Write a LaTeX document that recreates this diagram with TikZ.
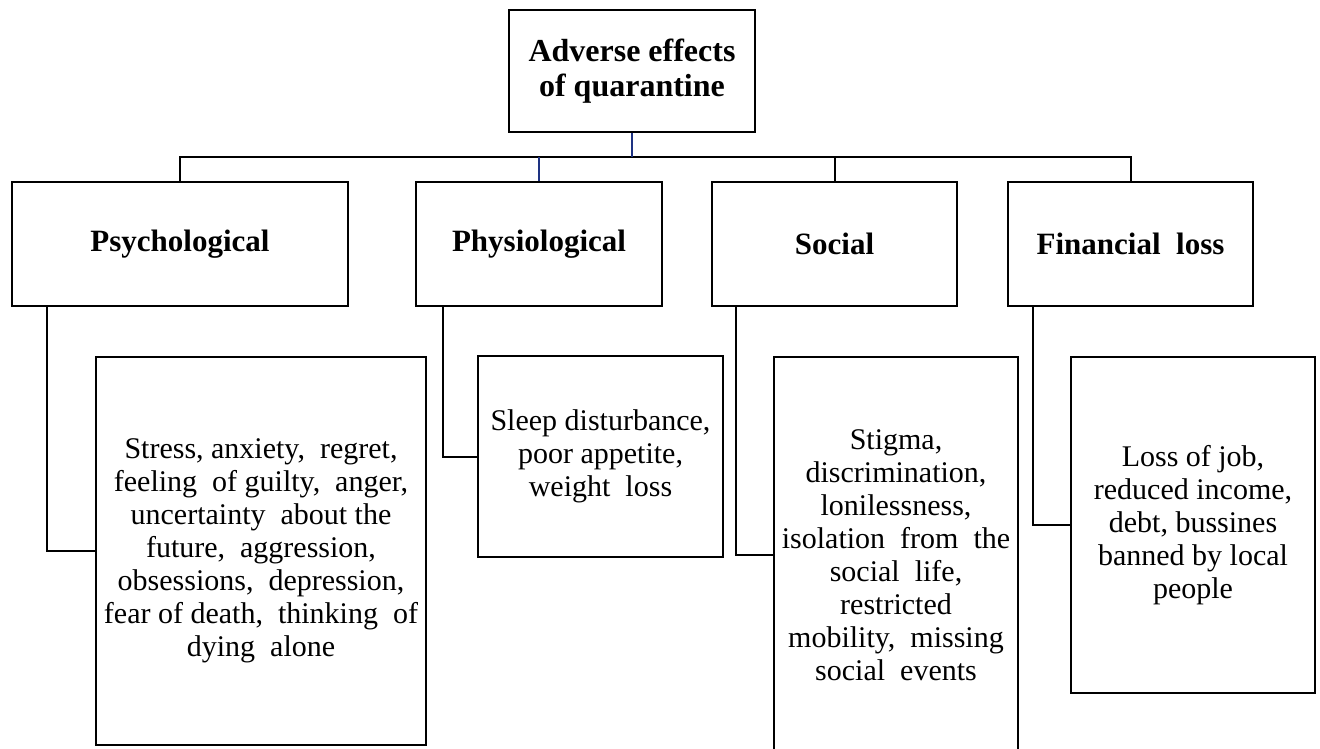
\documentclass[tikz,border=0pt]{standalone}
\usepackage{fontspec}
\setmainfont{Liberation Serif}
\definecolor{stemblue}{RGB}{30,50,130}
\begin{document}
\begin{tikzpicture}[x=1pt,y=-1pt,
  every path/.style={line width=2pt, line join=miter},
  boxn/.style={draw=black, line width=2pt, inner sep=0pt, align=center, anchor=center},
  headbox/.style={boxn, minimum height=124pt, font=\fontsize{31}{34}\selectfont\bfseries},
  bodybox/.style={boxn, font=\fontsize{30}{33}\selectfont}]
\useasboundingbox (0,0) rectangle (1320,749);

\node[boxn, minimum width=246pt, minimum height=122pt, font=\fontsize{32}{35}\selectfont\bfseries]
  (top) at (632,71) {Adverse effects\\of quarantine};

\node[headbox, minimum width=336pt] (psy) at (180,244) {Psychological};
\node[headbox, minimum width=246pt] (phy) at (539,244) {Physiological};
\node[headbox, minimum width=245pt] (soc) at (834.5,244) {Social};
\node[headbox, minimum width=245pt] (fin) at (1130.5,244) {Financial\ \ loss};

\node[bodybox, minimum width=330pt, minimum height=388pt] (psyd) at (261,551)
  {Stress, anxiety,\ \ regret,\\feeling\ \ of guilty,\ \ anger,\\uncertainty\ \ about the\\future,\ \ aggression,\\obsessions,\ \ depression,\\fear of death,\ \ thinking\ \ of\\dying\ \ alone};
\node[bodybox, minimum width=245pt, minimum height=201pt] (phyd) at (600.5,456.5)
  {Sleep disturbance,\\poor appetite,\\weight\ \ loss};
\node[bodybox, minimum width=244pt, minimum height=396pt] (socd) at (896,555)
  {Stigma,\\discrimination,\\lonilessness,\\isolation\ \ from\ \ the\\social\ \ life,\\restricted\\mobility,\ \ missing\\social\ \ events};
\node[bodybox, minimum width=244pt, minimum height=336pt] (find) at (1193,525)
  {Loss of job,\\reduced income,\\debt, bussines\\banned by local\\people};

% bus
\coordinate (bus) at (632,157);
\draw (psy.north) |- (bus) -| (fin.north);
\draw (soc.north) -- (soc.north |- bus);
\draw[stemblue] (phy.north) -- (phy.north |- bus);
\draw[stemblue] (top.south) -- (bus);

% side connectors
\coordinate (psyx) at (47,306);
\coordinate (phyx) at (443,306);
\coordinate (socx) at (736,306);
\coordinate (finx) at (1033,306);
\draw (psyx) |- (psyd.west);
\draw (phyx) |- (phyd.west);
\draw (socx) |- (socd.west);
\draw (finx) |- (find.west);
\end{tikzpicture}
\end{document}
